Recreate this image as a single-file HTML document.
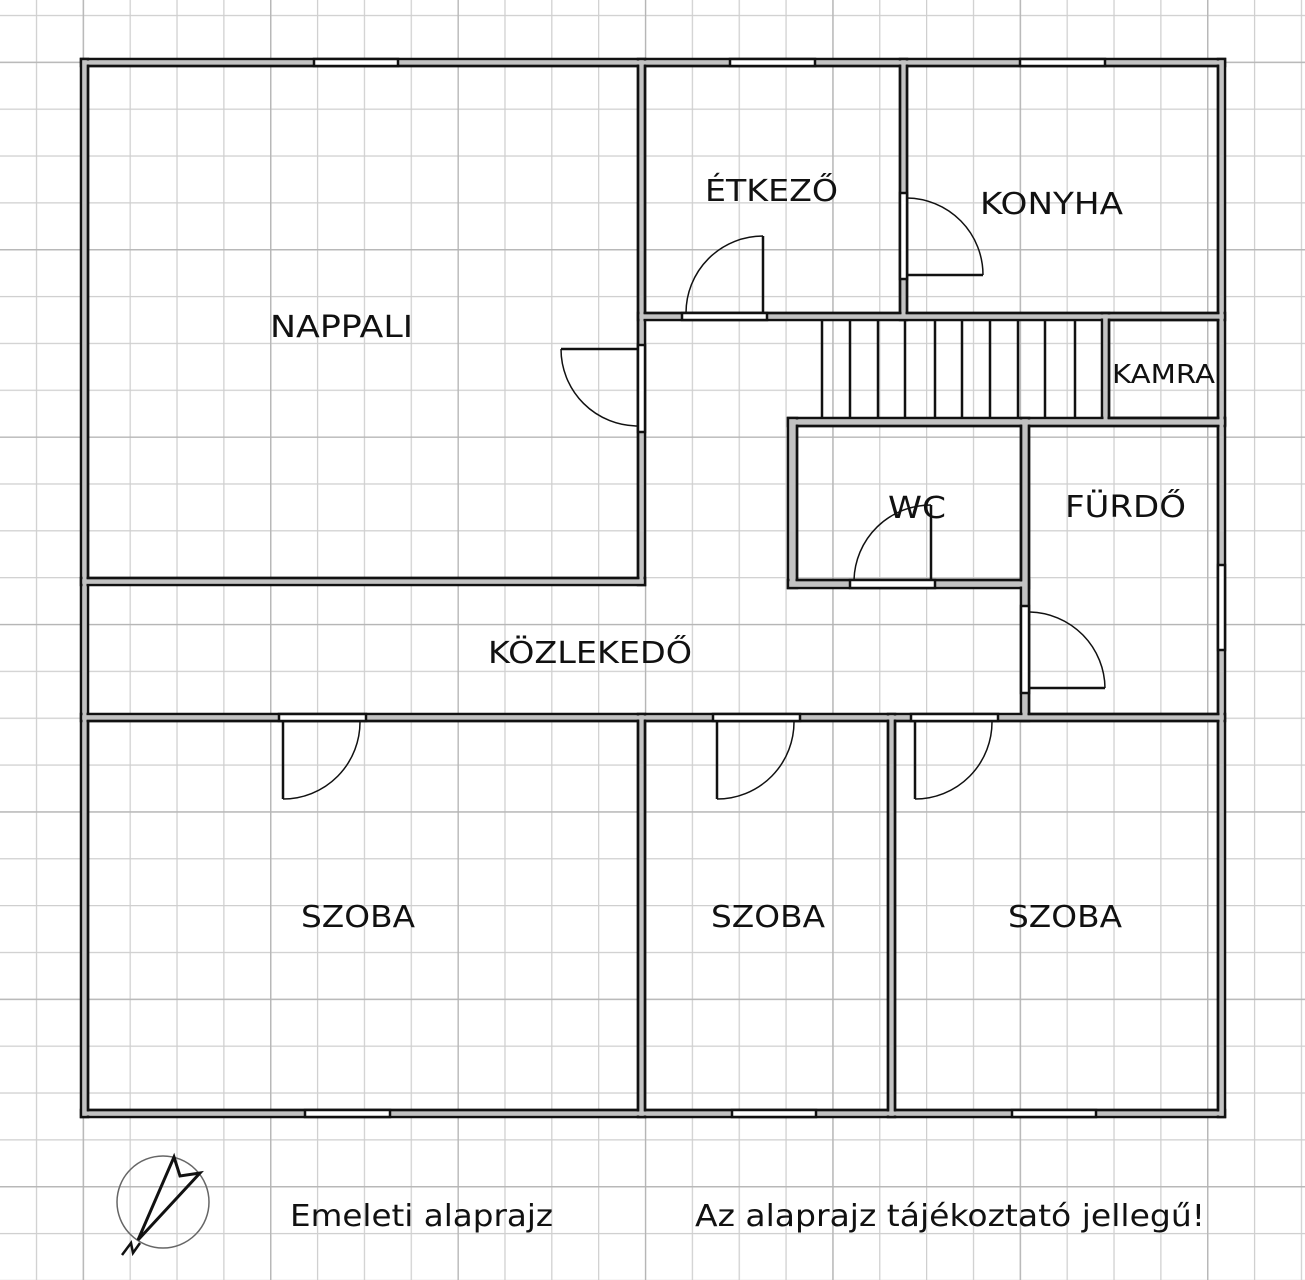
<!DOCTYPE html>
<html><head><meta charset="utf-8"><style>
html,body{margin:0;padding:0;background:#fff;}
svg{display:block;}
text{font-family:"DejaVu Sans","Liberation Sans",sans-serif;fill:#111;}
</style></head><body>
<svg width="1305" height="1280" viewBox="0 0 1305 1280" xmlns="http://www.w3.org/2000/svg">
<defs>
<pattern id="g" x="35.85" y="14.85" width="46.85" height="46.85" patternUnits="userSpaceOnUse">
<path d="M0 0H46.85M0 0V46.85" stroke="#cfcfcf" stroke-width="2.5" fill="none"/>
</pattern>
<pattern id="gm" x="82.7" y="61.7" width="187.4" height="187.4" patternUnits="userSpaceOnUse">
<path d="M0 0H187.4M0 0V187.4" stroke="#b4b4b4" stroke-width="2.5" fill="none"/>
</pattern>
</defs>
<rect width="1305" height="1280" fill="#fff"/>
<rect width="1305" height="1280" fill="url(#g)"/>
<rect width="1305" height="1280" fill="url(#gm)"/>

<g fill="#fff" stroke="#111" stroke-width="2.5">
<rect x="81" y="59" width="1144" height="7"/>
<rect x="81" y="1110" width="1144" height="7"/>
<rect x="81" y="59" width="7" height="1058"/>
<rect x="1218" y="59" width="7" height="1058"/>
<rect x="638" y="59" width="7" height="526"/>
<rect x="81" y="578" width="564" height="7"/>
<rect x="900" y="59" width="7" height="261"/>
<rect x="638" y="313" width="587" height="7"/>
<rect x="1102" y="313" width="7" height="112"/>
<rect x="1102" y="418" width="123" height="7"/>
<rect x="788" y="418" width="437" height="8"/>
<rect x="788" y="418" width="9" height="170"/>
<rect x="788" y="580" width="241" height="8"/>
<rect x="1021" y="418" width="8" height="303"/>
<rect x="81" y="714" width="1144" height="7"/>
<rect x="638" y="714" width="7" height="403"/>
<rect x="888" y="714" width="7" height="403"/>
</g>
<g fill="#c2c2c2">
<rect x="82.5" y="60.5" width="1141" height="4"/>
<rect x="82.5" y="1111.5" width="1141" height="4"/>
<rect x="82.5" y="60.5" width="4" height="1055"/>
<rect x="1219.5" y="60.5" width="4" height="1055"/>
<rect x="639.5" y="60.5" width="4" height="523"/>
<rect x="82.5" y="579.5" width="561" height="4"/>
<rect x="901.5" y="60.5" width="4" height="258"/>
<rect x="639.5" y="314.5" width="584" height="4"/>
<rect x="1103.5" y="314.5" width="4" height="109"/>
<rect x="1103.5" y="419.5" width="120" height="4"/>
<rect x="789.5" y="419.5" width="434" height="5"/>
<rect x="789.5" y="419.5" width="6" height="167"/>
<rect x="789.5" y="581.5" width="238" height="5"/>
<rect x="1022.5" y="419.5" width="5" height="300"/>
<rect x="82.5" y="715.5" width="1141" height="4"/>
<rect x="639.5" y="715.5" width="4" height="400"/>
<rect x="889.5" y="715.5" width="4" height="400"/>
</g>
<g fill="none" stroke="#111" stroke-width="2.5">
<rect x="88" y="66" width="550" height="512"/>
<rect x="645" y="66" width="255" height="247"/>
<rect x="907" y="66" width="311" height="247"/>
<rect x="1109" y="320" width="109" height="98"/>
<rect x="797" y="426" width="224" height="154"/>
<rect x="1029" y="426" width="189" height="288"/>
<rect x="88" y="721" width="550" height="389"/>
<rect x="645" y="721" width="243" height="389"/>
<rect x="895" y="721" width="323" height="389"/>
</g>
<g stroke="#111" stroke-width="2.5">
<path d="M822 320V418M850 320V418M878 320V418M905 320V418M935 320V418M962 320V418M990 320V418M1018 320V418M1045 320V418M1075 320V418"/>
</g>
<g fill="#fff" stroke="#111" stroke-width="2.5">
<rect x="314" y="59" width="84" height="7"/>
<rect x="730" y="59" width="85" height="7"/>
<rect x="1020" y="59" width="85" height="7"/>
<rect x="305" y="1110" width="85" height="7"/>
<rect x="732" y="1110" width="84" height="7"/>
<rect x="1012" y="1110" width="84" height="7"/>
<rect x="1218" y="565" width="7" height="85"/>
<rect x="682" y="313" width="85" height="7"/>
<rect x="900" y="193" width="7" height="86"/>
<rect x="638" y="345" width="7" height="87"/>
<rect x="850" y="580" width="85" height="8"/>
<rect x="1021" y="606" width="8" height="87"/>
<rect x="279" y="714" width="87" height="7"/>
<rect x="713" y="714" width="87" height="7"/>
<rect x="911" y="714" width="87" height="7"/>
</g>
<g fill="none" stroke="#111" stroke-width="2.5">
<path d="M763 313V236"/><path d="M763 236A77 77 0 0 0 686 313" stroke-width="1.5"/>
<path d="M907 275H983"/><path d="M983 275A77 77 0 0 0 907 198" stroke-width="1.5"/>
<path d="M638 349H561"/><path d="M561 349A77 77 0 0 0 638 426" stroke-width="1.5"/>
<path d="M931 580V505"/><path d="M931 505A77 77 0 0 0 854 580" stroke-width="1.5"/>
<path d="M1030 688H1105"/><path d="M1105 688A77 77 0 0 0 1030 612" stroke-width="1.5"/>
<path d="M283 721V799"/><path d="M283 799A77 77 0 0 0 360 721" stroke-width="1.5"/>
<path d="M717 721V799"/><path d="M717 799A77 77 0 0 0 794 721" stroke-width="1.5"/>
<path d="M915 721V799"/><path d="M915 799A77 77 0 0 0 992 721" stroke-width="1.5"/>
</g>
<g font-size="30">
<text x="270" y="337" textLength="143" lengthAdjust="spacingAndGlyphs">NAPPALI</text>
<text x="705" y="201" textLength="133" lengthAdjust="spacingAndGlyphs">ÉTKEZŐ</text>
<text x="980" y="214" textLength="143" lengthAdjust="spacingAndGlyphs">KONYHA</text>
<text x="888" y="518" textLength="58" lengthAdjust="spacingAndGlyphs">WC</text>
<text x="1065" y="517" textLength="121" lengthAdjust="spacingAndGlyphs">FÜRDŐ</text>
<text x="488" y="663" textLength="204" lengthAdjust="spacingAndGlyphs">KÖZLEKEDŐ</text>
<text x="301" y="927" textLength="114" lengthAdjust="spacingAndGlyphs">SZOBA</text>
<text x="711" y="927" textLength="114" lengthAdjust="spacingAndGlyphs">SZOBA</text>
<text x="1008" y="927" textLength="114" lengthAdjust="spacingAndGlyphs">SZOBA</text>
<text x="290" y="1226" textLength="263" lengthAdjust="spacingAndGlyphs">Emeleti alaprajz</text>
<text x="695" y="1226" textLength="510" lengthAdjust="spacingAndGlyphs">Az alaprajz tájékoztató jellegű!</text>
</g>
<text x="1112" y="383" font-size="26" textLength="103" lengthAdjust="spacingAndGlyphs">KAMRA</text>
<g fill="none" stroke="#333">
<circle cx="163" cy="1202" r="46" stroke-width="1.5" stroke="#666"/>
<path d="M138 1240L174 1157L180 1176L200 1173Z" stroke="#111" stroke-width="3"/>
<path d="M122 1255L131 1243L133 1253L140 1243" stroke="#111" stroke-width="2.5"/>
</g>
</svg>
</body></html>
